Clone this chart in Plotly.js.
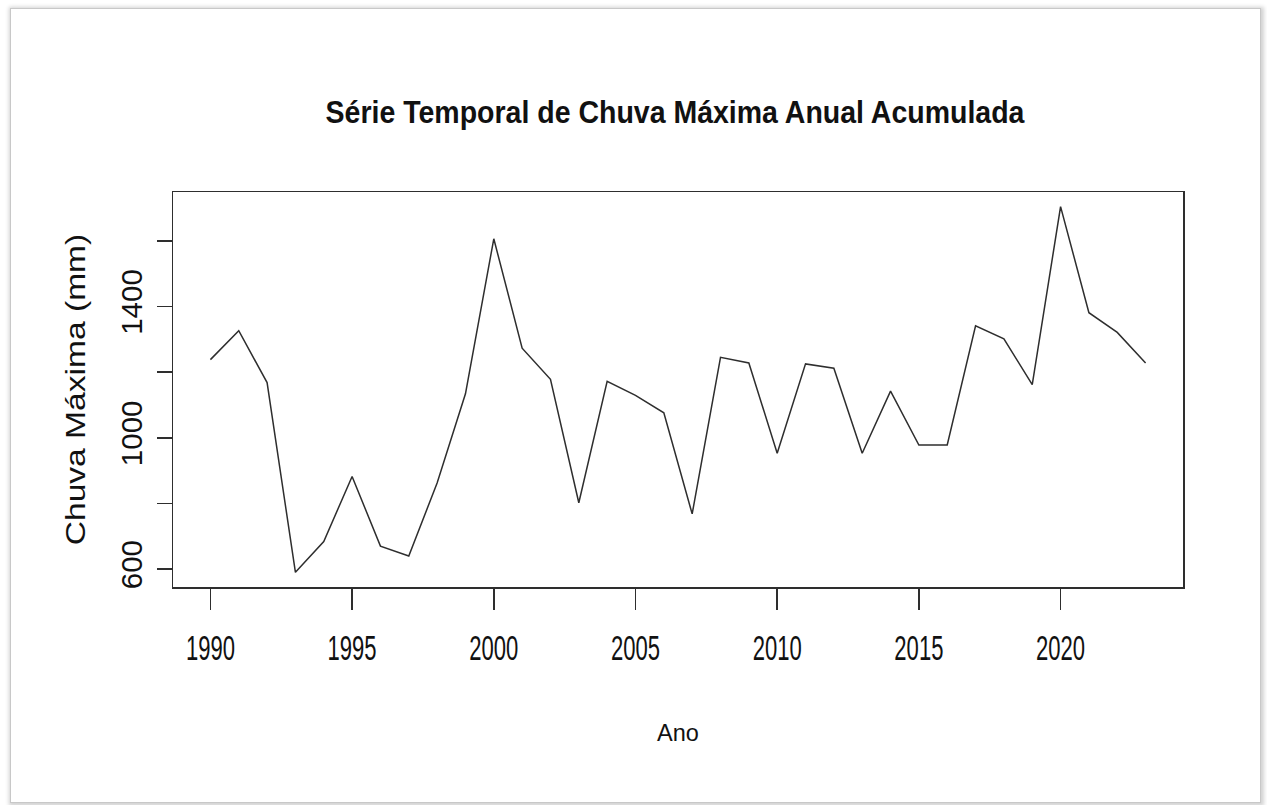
<!DOCTYPE html>
<html>
<head>
<meta charset="utf-8">
<script src="https://cdn.plot.ly/plotly-3.0.1.min.js"></script>
<style>
  html, body { margin: 0; padding: 0; background: #ffffff; }
  #frame {
    position: absolute; left: 10px; top: 8px; width: 1249px; height: 793px;
    border: 1px solid #c8c8c8; box-shadow: 1px 1px 4px 2px rgba(0,0,0,0.18);
    background: #ffffff;
  }
  #chart { position: absolute; left: 0; top: 0; width: 1267px; height: 805px; }
</style>
</head>
<body>
<div id="frame"></div>
<div id="chart"></div>
<script>
const years = [1990, 1991, 1992, 1993, 1994, 1995, 1996, 1997, 1998, 1999,
               2000, 2001, 2002, 2003, 2004, 2005, 2006, 2007, 2008, 2009,
               2010, 2011, 2012, 2013, 2014, 2015, 2016, 2017, 2018, 2019,
               2020, 2021, 2022, 2023];
const chuvaMaxima = [1238, 1326, 1168, 590, 684, 882, 670, 640, 862, 1134,
                     1606, 1273, 1178, 802, 1172, 1129, 1076, 768, 1245, 1228,
                     953, 1225, 1212, 953, 1142, 978, 978, 1341, 1301, 1162,
                     1704, 1381, 1321, 1228];
const xTickVals = [1990, 1995, 2000, 2005, 2010, 2015, 2020];
const xTickText = ['1990', '1995', '2000', '2005', '2010', '2015', '2020'];
const yTickVals = [600, 800, 1000, 1200, 1400, 1600];
const yTickText = ['600', '', '1000', '', '1400', ''];

const titleText = 'Série Temporal de Chuva Máxima Anual Acumulada';
const xTitle = 'Ano';
const yTitle = 'Chuva Máxima (mm)';

const FONT = 'Liberation Sans, Arial, sans-serif';
const INK = '#2e2e2e';

const trace = {
  x: years, y: chuvaMaxima, type: 'scatter', mode: 'lines',
  line: { color: INK, width: 1.5 }, hoverinfo: 'x+y'
};

const layout = {
  width: 1267, height: 805,
  paper_bgcolor: 'rgba(0,0,0,0)', plot_bgcolor: '#ffffff',
  margin: { l: 173, r: 84, t: 192, b: 218 },
  showlegend: false,
  title: {
    text: '<b>' + titleText + '</b>',
    font: { family: FONT, size: 28.5, color: '#111111' },
    xref: 'container', yref: 'container',
    x: 675 / 1267, xanchor: 'center',
    y: 1 - 112 / 805, yanchor: 'middle'
  },
  xaxis: {
    range: [1988.68, 2024.32], tickmode: 'array',
    tickvals: xTickVals, ticktext: xTickText,
    ticks: 'outside', ticklen: 21, tickwidth: 1.5, tickcolor: INK,
    tickfont: { family: FONT, size: 35, color: '#111111' },
    ticklabelstandoff: 9,
    showline: true, linecolor: INK, linewidth: 1.5, mirror: true,
    showgrid: false, zeroline: false,
    title: { text: xTitle, font: { family: FONT, size: 23.5, color: '#111111' }, standoff: 58 }
  },
  yaxis: {
    range: [545.4, 1748.6], tickmode: 'array',
    tickvals: yTickVals, ticktext: yTickText,
    ticks: 'outside', ticklen: 15, tickwidth: 1.5, tickcolor: INK,
    tickfont: { family: FONT, size: 29.5, color: '#111111' },
    tickangle: -90, ticklabelstandoff: 3,
    showline: true, linecolor: INK, linewidth: 1.5, mirror: true,
    showgrid: false, zeroline: false,
    title: { text: yTitle, font: { family: FONT, size: 28, color: '#111111' }, standoff: 21 }
  }
};

// Stretch a text element about its own anchor point (the reference image is non-uniformly scaled).
function stretchText(t, sx, sy) {
  const x = parseFloat(t.getAttribute('x')) || 0;
  const y = parseFloat(t.getAttribute('y')) || 0;
  const tr = t.getAttribute('transform') || '';
  t.setAttribute('transform',
    tr + ' translate(' + x + ',' + y + ') scale(' + sx + ',' + sy + ') translate(' + (-x) + ',' + (-y) + ')');
}

Plotly.newPlot('chart', [trace], layout, { displayModeBar: false, staticPlot: true }).then(function (gd) {
  gd.querySelectorAll('.xtick text').forEach(function (t) { stretchText(t, 0.63, 1); });
  gd.querySelectorAll('.gtitle').forEach(function (t) { stretchText(t, 1, 1.08); });
  gd.querySelectorAll('.ytitle').forEach(function (t) { stretchText(t, 1.2, 1); });
});
</script>
</body>
</html>
